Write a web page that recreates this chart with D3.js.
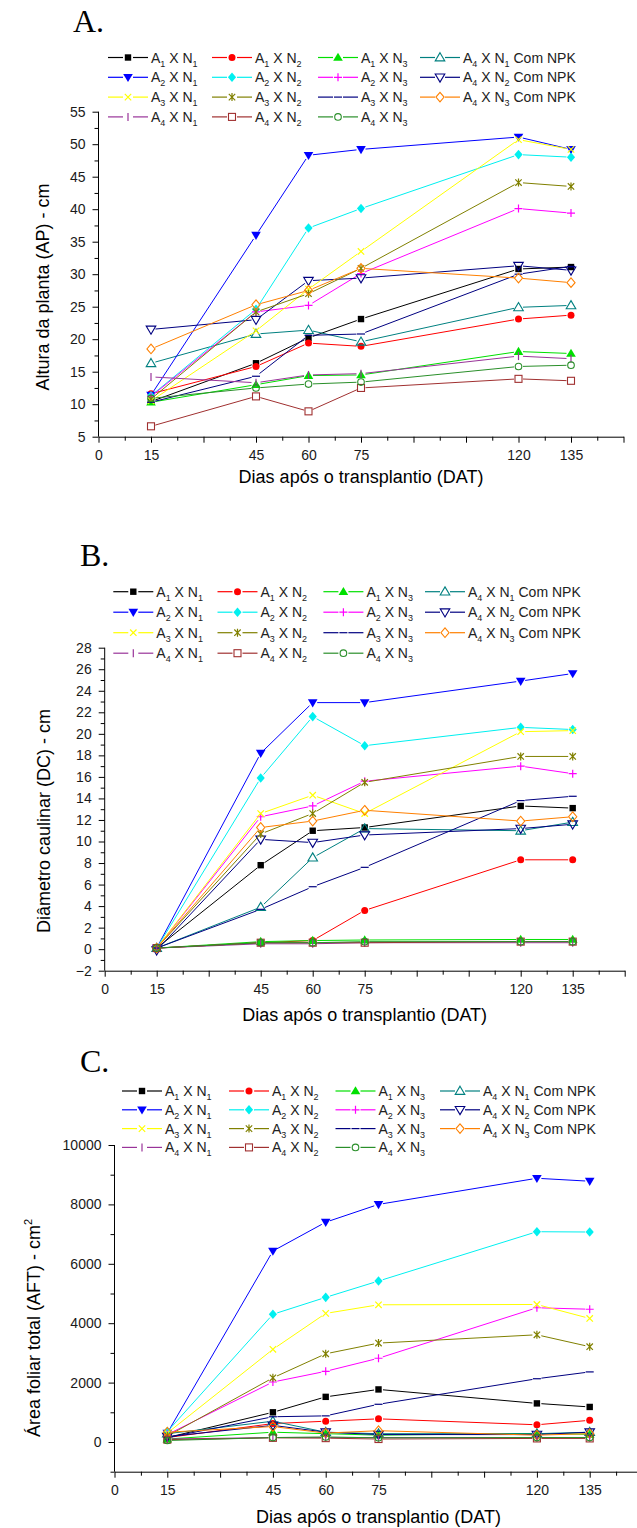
<!DOCTYPE html>
<html><head><meta charset="utf-8">
<script src="https://cdn.jsdelivr.net/npm/d3@7"></script>
<style>
body{margin:0;background:#fff}
svg{display:block}
text{font-family:"Liberation Sans",Arial,Helvetica,sans-serif}
</style>
</head><body>
<svg id="chart" width="637" height="1528"></svg>
<script>
// ---------------- DATA ----------------
const days = [15, 45, 60, 75, 120, 135];
const xTickLabels = [0, 15, 45, 60, 75, 120, 135];

const seriesLabels = [
  "A_1 X N_1", "A_1 X N_2", "A_1 X N_3", "A_4 X N_1 Com NPK",
  "A_2 X N_1", "A_2 X N_2", "A_2 X N_3", "A_4 X N_2 Com NPK",
  "A_3 X N_1", "A_3 X N_2", "A_3 X N_3", "A_4 X N_3 Com NPK",
  "A_4 X N_1", "A_4 X N_2", "A_4 X N_3"
];
const seriesColors = [
  "#000000", "#ff0000", "#00e000", "#008080",
  "#0000ff", "#00f0f0", "#ff00ff", "#000080",
  "#ffff00", "#808000", "#000080", "#ff8000",
  "#993399", "#a03030", "#2a8f2a"
];
const seriesMarkers = [
  "square", "circle", "triUp", "openTriUp",
  "triDown", "diamond", "plus", "openTriDown",
  "cross", "star", "dash", "openDiamond",
  "bar", "openSquare", "openCircle"
];

// Panel A: Altura da planta (cm)
const alturaValues = [
  [10.4, 16.3, 20.2, 23.1, 30.8, 31.1],
  [11.6, 15.8, 19.4, 18.9, 23.1, 23.7],
  [10.3, 13.0, 14.4, 14.5, 18.1, 17.8],
  [16.3, 20.8, 21.4, 19.6, 24.9, 25.2],
  [11.4, 36.0, 48.3, 49.2, 51.1, 49.2],
  [11.3, 24.6, 37.1, 40.1, 48.4, 48.0],
  [11.2, 24.2, 25.2, 30.1, 40.1, 39.4],
  [21.5, 23.0, 29.0, 29.4, 31.3, 30.6],
  [10.5, 21.3, 27.7, 33.5, 50.7, 49.2],
  [10.8, 24.2, 27.0, 30.9, 44.1, 43.5],
  [10.3, 14.3, 20.6, 20.8, 30.0, 31.2],
  [18.5, 25.3, 27.5, 30.9, 29.4, 28.7],
  [14.2, 13.3, 14.5, 14.7, 17.4, 17.0],
  [6.6, 11.2, 8.9, 12.5, 13.9, 13.6],
  [10.9, 12.5, 13.1, 13.4, 15.8, 16.0]
];
const alturaTicks = [5, 10, 15, 20, 25, 30, 35, 40, 45, 50, 55];

// Panel B: Diâmetro caulinar (cm)
const diametroValues = [
  [0.1, 7.8, 11.0, 11.3, 13.3, 13.1],
  [0.1, 0.6, 0.8, 3.6, 8.3, 8.3],
  [0.1, 0.7, 0.8, 0.85, 0.9, 0.9],
  [0.1, 3.9, 8.5, 11.2, 11.0, 11.8],
  [0.1, 18.2, 22.9, 22.9, 24.9, 25.6],
  [0.1, 15.9, 21.6, 18.9, 20.6, 20.4],
  [0.1, 12.3, 13.3, 15.6, 17.0, 16.3],
  [-0.1, 10.2, 9.9, 10.6, 11.2, 11.6],
  [0.1, 12.6, 14.3, 12.6, 20.2, 20.3],
  [0.1, 10.7, 12.6, 15.5, 17.9, 17.9],
  [0.1, 3.7, 5.8, 7.6, 13.8, 14.2],
  [0.1, 11.3, 11.9, 12.9, 11.9, 12.3],
  [0.1, 0.5, 0.5, 0.6, 0.6, 0.6],
  [0.1, 0.6, 0.6, 0.6, 0.7, 0.7],
  [0.1, 0.6, 0.6, 0.7, 0.7, 0.7]
];
const diametroTicks = [-2, 0, 2, 4, 6, 8, 10, 12, 14, 16, 18, 20, 22, 24, 26, 28];

// Panel C: Área foliar total (cm²)
const areaValues = [
  [150, 1000, 1520, 1770, 1300, 1180],
  [150, 620, 700, 780, 580, 730],
  [100, 330, 280, 230, 290, 260],
  [280, 700, 330, 280, 280, 330],
  [300, 6430, 7400, 8000, 8880, 8780],
  [350, 4300, 4870, 5420, 7080, 7070],
  [250, 2020, 2380, 2820, 4520, 4470],
  [180, 560, 330, 250, 250, 330],
  [300, 3120, 4330, 4620, 4630, 4160],
  [200, 2160, 2970, 3330, 3610, 3210],
  [150, 850, 880, 1270, 2130, 2360],
  [330, 520, 300, 380, 230, 280],
  [100, 150, 150, 150, 150, 150],
  [80, 140, 130, 100, 120, 120],
  [50, 150, 170, 140, 150, 150]
];
const areaTicks = [0, 2000, 4000, 6000, 8000, 10000];

// ---------------- LAYOUT ----------------
const panels = [
  {
    letter: "A.", letterX: 73, letterY: 32,
    values: alturaValues, ticks: alturaTicks, yDomain: [5, 55],
    yTitle: [["Altura da planta (AP) - cm", 0]], yTitleX: 49, yTitleY: 287,
    x0: 98.5, x1: 623.5, yBottom: 436.7, yTop: 111.7,
    legendX: [108, 212, 318, 420], legendY0: 57.5, legendDy: 19.8,
    xTitleDy: 46
  },
  {
    letter: "B.", letterX: 80, letterY: 566,
    values: diametroValues, ticks: diametroTicks, yDomain: [-2, 28],
    yTitle: [["Diâmetro caulinar (DC) - cm", 0]], yTitleX: 50, yTitleY: 821,
    x0: 104.7, x1: 624.7, yBottom: 970.7, yTop: 647.7,
    legendX: [113.3, 217.5, 323.4, 425], legendY0: 591.7, legendDy: 20.5,
    xTitleDy: 50
  },
  {
    letter: "C.", letterX: 80, letterY: 1072,
    values: areaValues, ticks: areaTicks, yDomain: [-1000, 10000],
    yTitle: [["Área foliar total (AFT) - cm", 0], ["2", 1]], yTitleX: 40, yTitleY: 1328,
    x0: 114.5, x1: 642.5, yBottom: 1471.7, yTop: 1145,
    legendX: [122, 229, 335.5, 440], legendY0: 1091, legendDy: 18.8,
    xTitleDy: 51
  }
];

const svg = d3.select("#chart");

function markerPath(type, s) {
  switch (type) {
    case "triUp": case "openTriUp":
      return `M0,${-s}L${s},${s*0.7}L${-s},${s*0.7}Z`;
    case "triDown": case "openTriDown":
      return `M0,${s}L${s},${-s*0.7}L${-s},${-s*0.7}Z`;
    case "diamond": case "openDiamond":
      return `M0,${-s}L${s*0.85},0L0,${s}L${-s*0.85},0Z`;
    case "plus":
      return `M${-s},0H${s}M0,${-s}V${s}`;
    case "cross":
      return `M${-s*0.8},${-s*0.8}L${s*0.8},${s*0.8}M${-s*0.8},${s*0.8}L${s*0.8},${-s*0.8}`;
    case "star":
      return `M${-s*0.8},${-s*0.8}L${s*0.8},${s*0.8}M${-s*0.8},${s*0.8}L${s*0.8},${-s*0.8}M0,${-s}V${s}`;
    case "dash":
      return `M${-s},0H${s}`;
    case "bar":
      return `M0,${-s}V${s}`;
  }
  return null;
}

function drawMarker(g, type, color, cx, cy) {
  const t = `translate(${cx},${cy})`;
  if (type === "square") {
    g.append("rect").attr("x", cx - 3.2).attr("y", cy - 3.2).attr("width", 6.4).attr("height", 6.4).attr("fill", color);
  } else if (type === "openSquare") {
    g.append("rect").attr("x", cx - 3.5).attr("y", cy - 3.5).attr("width", 7).attr("height", 7)
      .attr("fill", "none").attr("stroke", color).attr("stroke-width", 1.1);
  } else if (type === "circle") {
    g.append("circle").attr("cx", cx).attr("cy", cy).attr("r", 3.5).attr("fill", color);
  } else if (type === "openCircle") {
    g.append("circle").attr("cx", cx).attr("cy", cy).attr("r", 3.3)
      .attr("fill", "none").attr("stroke", color).attr("stroke-width", 1.1);
  } else if (["triUp", "triDown", "diamond"].includes(type)) {
    g.append("path").attr("transform", t).attr("d", markerPath(type, 4.8)).attr("fill", color);
  } else if (["openTriUp", "openTriDown", "openDiamond"].includes(type)) {
    g.append("path").attr("transform", t).attr("d", markerPath(type, 4.8))
      .attr("fill", "none").attr("stroke", color).attr("stroke-width", 1.1);
  } else {
    g.append("path").attr("transform", t).attr("d", markerPath(type, 4))
      .attr("fill", "none").attr("stroke", color).attr("stroke-width", 1.2);
  }
}

function addSubText(textSel, label, subSize, shift) {
  const parts = label.split(/_(\d)/);
  parts.forEach((p, i) => {
    if (p === "") return;
    const isSub = i % 2 === 1;
    const ts = textSel.append("tspan").text(p);
    if (isSub) {
      ts.attr("font-size", subSize).attr("dy", shift);
    } else if (i > 0) {
      ts.attr("dy", -shift);
    }
  });
}

const fmt = d3.format("d");

panels.forEach(p => {
  const g = svg.append("g");
  const x = d3.scaleLinear().domain([0, 150]).range([p.x0, p.x1]);
  const y = d3.scaleLinear().domain(p.yDomain).range([p.yBottom, p.yTop]);

  // Panel letter
  g.append("text").attr("x", p.letterX).attr("y", p.letterY)
    .style("font-family", "'Liberation Serif','Times New Roman',serif")
    .attr("font-size", 32).attr("fill", "#000").text(p.letter);

  // X axis
  const xMajor = d3.range(0, 151, 15);
  const xMinor = d3.range(7.5, 150, 15);
  const gx = g.append("g").attr("transform", `translate(0,${p.yBottom})`);
  gx.call(d3.axisBottom(x).tickValues(xMajor).tickSize(6).tickSizeOuter(0).tickPadding(7)
    .tickFormat(d => xTickLabels.includes(d) ? fmt(d) : ""));
  gx.append("g").call(d3.axisBottom(x).tickValues(xMinor).tickSize(4).tickSizeOuter(0).tickFormat(""))
    .select(".domain").remove();

  // Y axis
  const yMinor = [];
  for (let i = 0; i < p.ticks.length - 1; i++) yMinor.push((p.ticks[i] + p.ticks[i + 1]) / 2);
  if (p.yDomain[0] < p.ticks[0]) yMinor.unshift(p.yDomain[0]);
  const gy = g.append("g").attr("transform", `translate(${p.x0},0)`);
  gy.call(d3.axisLeft(y).tickValues(p.ticks).tickSize(6).tickSizeOuter(0).tickPadding(7).tickFormat(fmt));
  gy.append("g").call(d3.axisLeft(y).tickValues(yMinor).tickSize(4).tickSizeOuter(0).tickFormat(""))
    .select(".domain").remove();
  gy.select(".domain").attr("d", `M0,${p.yBottom}V${p.yTop}`);

  [gx, gy].forEach(a => {
    a.selectAll("text").attr("font-size", 14).attr("fill", "#1a1a1a")
      .attr("font-family", "'Liberation Sans',Arial,sans-serif");
    a.selectAll("line,path").attr("stroke", "#000").attr("stroke-width", 1);
  });

  // Axis titles
  g.append("text").attr("x", (p.x0 + p.x1) / 2).attr("y", p.yBottom + p.xTitleDy)
    .attr("text-anchor", "middle").attr("font-size", 18).attr("fill", "#000")
    .text("Dias após o transplantio (DAT)");
  const yt = g.append("text").attr("transform", `translate(${p.yTitleX},${p.yTitleY}) rotate(-90)`)
    .attr("text-anchor", "middle").attr("font-size", 18).attr("fill", "#000");
  p.yTitle.forEach(([t, sup]) => {
    const ts = yt.append("tspan").text(t);
    if (sup) ts.attr("font-size", 11).attr("dy", -8);
  });

  // Series
  const gs = g.append("g");
  const gap = 4.5;
  p.values.forEach((vals, si) => {
    const color = seriesColors[si];
    const pts = days.map((d, i) => [x(d), y(vals[i])]);
    for (let i = 0; i < pts.length - 1; i++) {
      const [x0, y0] = pts[i], [x1, y1] = pts[i + 1];
      const L = Math.hypot(x1 - x0, y1 - y0);
      if (L <= 2 * gap) continue;
      const ux = (x1 - x0) / L, uy = (y1 - y0) / L;
      gs.append("line")
        .attr("x1", x0 + ux * gap).attr("y1", y0 + uy * gap)
        .attr("x2", x1 - ux * gap).attr("y2", y1 - uy * gap)
        .attr("stroke", color).attr("stroke-width", 1);
    }
    pts.forEach(([cx, cy]) => drawMarker(gs, seriesMarkers[si], color, cx, cy));
  });

  // Legend
  const gl = g.append("g");
  seriesLabels.forEach((lab, si) => {
    const col = si % 4, row = Math.floor(si / 4);
    const lx = p.legendX[col];
    const ly = p.legendY0 + row * p.legendDy;
    const color = seriesColors[si];
    gl.append("line").attr("x1", lx).attr("x2", lx + 15).attr("y1", ly).attr("y2", ly)
      .attr("stroke", color).attr("stroke-width", 1.2);
    gl.append("line").attr("x1", lx + 25).attr("x2", lx + 40).attr("y1", ly).attr("y2", ly)
      .attr("stroke", color).attr("stroke-width", 1.2);
    drawMarker(gl, seriesMarkers[si], color, lx + 20, ly);
    const t = gl.append("text").attr("x", lx + 43).attr("y", ly + 5)
      .attr("font-size", 14).attr("fill", "#222");
    addSubText(t, lab, 9, 4);
  });
});
</script>
</body></html>
